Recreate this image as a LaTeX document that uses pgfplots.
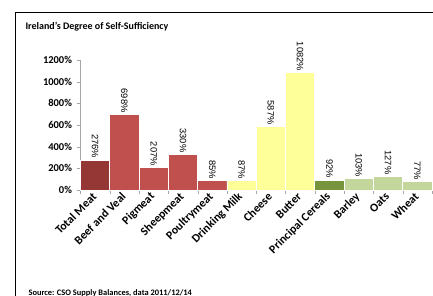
\documentclass[border=0pt]{standalone}
\usepackage{fontspec}
\setmainfont{Carlito}
\newfontfamily\arialf{Liberation Sans}
\usepackage{pgfplots}
\pgfplotsset{compat=1.18}
\definecolor{darkred}{HTML}{953735}
\definecolor{meatred}{HTML}{C0504D}
\definecolor{dairy}{HTML}{FFFF99}
\definecolor{olive}{HTML}{77933C}
\definecolor{lgreen}{HTML}{C3D69B}
\begin{document}
\begin{tikzpicture}[x=1pt,y=1pt]
\path[use as bounding box] (0,0) rectangle (433,296);
\draw[black, line width=0.9pt] (15,0) -- (15,284) -- (433,284);
\node[anchor=west, font=\bfseries\fontsize{10}{12}\selectfont] at (22,269) {Ireland's Degree of Self-Sufficiency};
\node[anchor=west, font=\bfseries\fontsize{8.4}{9}\selectfont] at (25,3) {Source: CSO Supply Balances, data 2011/12/14};
\begin{axis}[
  at={(80.5pt,106pt)}, anchor=south west,
  scale only axis, width=351.5pt, height=130pt,
  clip=false,
  /pgf/number format/assume math mode=true,
  ybar, bar width=1, bar shift=0pt,
  xmin=-0.5, xmax=11.5, ymin=0, ymax=1200,
  axis lines=left, axis line style={-, gray!70},
  tick align=outside,
  ytick={0,200,...,1200},
  yticklabels={0\%,200\%,400\%,600\%,800\%,1000\%,1200\%},
  yticklabel style={font=\bfseries\fontsize{10.5}{12}\selectfont, xshift=-1pt},
  xtick={0,...,11},
  xticklabels={Total Meat,Beef and Veal,Pigmeat,Sheepmeat,Poultrymeat,Drinking Milk,Cheese,Butter,Principal Cereals,Barley,Oats,Wheat},
  xticklabel style={rotate=45, anchor=east, font=\bfseries\fontsize{11.8}{13}\selectfont, inner sep=1pt},
  major x tick style={draw=none},
  minor xtick={-0.5,0.5,...,11.5},
  minor tick length=4pt, major tick length=4pt,
  tick style={gray!70},
  nodes near coords={\pgfmathprintnumber[fixed,precision=0,1000 sep={},assume math mode=true]{\pgfplotspointmeta}\%},
  every node near coord/.append style={rotate=-90, anchor=east, font=\arialf\fontsize{9.3}{10}\selectfont, inner sep=1.5pt, black},
]
\addplot[fill=darkred, draw=white, line width=0.7pt] coordinates {(0,276)};
\addplot[fill=meatred, draw=white, line width=0.7pt] coordinates {(1,698) (2,207) (3,330) (4,85)};
\addplot[fill=dairy, draw=white, line width=0.7pt] coordinates {(5,87) (6,587) (7,1082)};
\addplot[fill=olive, draw=white, line width=0.7pt] coordinates {(8,92)};
\addplot[fill=lgreen, draw=white, line width=0.7pt] coordinates {(9,103) (10,127) (11,77)};
\end{axis}
\end{tikzpicture}
\end{document}
